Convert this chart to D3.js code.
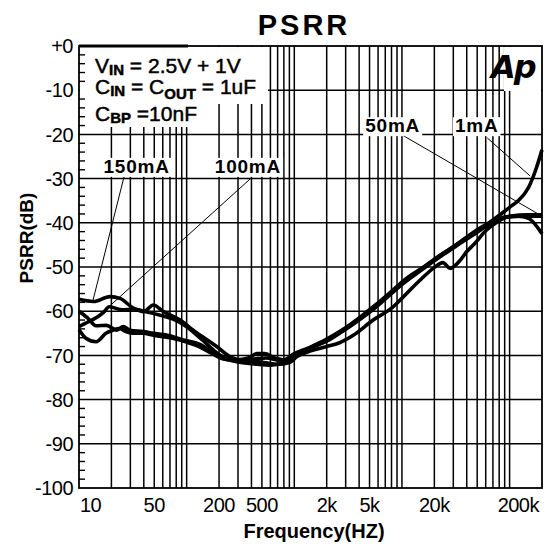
<!DOCTYPE html>
<html>
<head>
<meta charset="utf-8">
<script src="https://cdn.jsdelivr.net/npm/d3@7"></script>
<style>
body { margin: 0; background: #fff; }
</style>
</head>
<body>
<div id="chart"></div>
<script>
// PSRR vs frequency, four load currents
const freq150 = [10, 13.6, 19.4, 24, 32, 40, 49, 61, 87, 115, 190, 253, 314, 420, 550, 750, 1000, 1400, 2000, 2800, 4000, 5600, 8000, 11000, 16000, 23000, 33000, 47000, 66000, 90000, 120000, 150000, 200000];
const db150 = [-57.3, -57.8, -56.7, -57.1, -59.3, -60.1, -58.6, -60.1, -62.0, -64.3, -68.0, -70.3, -71.0, -70.8, -70.6, -71.2, -70.0, -68.5, -66.6, -64.4, -61.8, -59.0, -55.8, -53.2, -50.3, -47.6, -45.0, -42.6, -40.2, -38.8, -38.5, -39.0, -42.5];

const freq100 = [10, 12, 14.4, 17, 19.1, 25.4, 32, 42, 57, 75, 100, 140, 200, 290, 380, 450, 530, 650, 800, 1000, 1400, 2000, 2800, 4000, 5600, 8000, 11000, 16000, 23000, 33000, 47000, 66000, 90000, 130000, 200000];
const db100 = [-63.5, -62.5, -61.5, -60.2, -59.0, -59.7, -59.5, -60.1, -60.9, -61.8, -63.5, -66.5, -69.8, -71.0, -70.5, -69.6, -69.6, -70.5, -71.0, -69.6, -68.2, -66.8, -64.6, -62.0, -59.3, -56.0, -53.0, -50.0, -47.2, -44.8, -42.2, -40.0, -38.7, -38.5, -38.5];

const freq50 = [10, 12, 14.4, 18, 22.4, 25.8, 29.8, 39.6, 49, 65, 93, 133, 200, 300, 450, 600, 800, 1000, 1400, 2000, 2600, 3500, 5400, 8300, 9600, 14700, 19800, 24000, 28000, 35000, 40000, 47000, 60000, 75000, 100000, 150000, 200000];
const db50 = [-60.0, -61.5, -63.3, -63.2, -64.3, -63.5, -64.3, -64.6, -65.0, -65.4, -66.5, -67.5, -70.3, -71.5, -72.0, -72.2, -71.8, -70.5, -69.0, -68.0, -67.2, -65.5, -62.0, -59.0, -57.5, -53.0, -50.2, -49.0, -50.3, -48.4, -46.5, -44.8, -41.8, -40.0, -38.5, -38.2, -38.2];

const freq1 = [10, 11.6, 14.4, 17.8, 20.6, 23.7, 27.3, 31.5, 39, 50, 70, 100, 130, 170, 220, 300, 400, 520, 700, 900, 1100, 1400, 2000, 2800, 4000, 5600, 8000, 11000, 16000, 23000, 33000, 47000, 66000, 100000, 120000, 150000, 175000, 200000];
const db1 = [-64.2, -66.1, -66.9, -65.0, -64.3, -63.9, -64.6, -65.0, -65.0, -65.5, -66.0, -67.0, -68.0, -69.5, -70.8, -71.2, -71.3, -71.6, -72.0, -71.6, -69.8, -68.2, -66.3, -64.2, -61.5, -58.7, -55.5, -52.6, -50.0, -47.3, -44.7, -42.0, -39.8, -36.5, -35.0, -32.0, -28.0, -23.5];

const seriesNames = ['150mA', '100mA', '50mA', '1mA'];
const labelFreq = [34.3, 371, 8200, 49500];
const labelDb = [-28.7, -28.7, -19.5, -19.5];
const leaderStart = [[26.2, -29.6], [388, -30.1], [10000, -20.1], [62000, -20.8]];
const leaderEnd = [[13.5, -57.5], [16.7, -60.2], [200000, -38.5], [155000, -29.4]];

const xTickValues = [10, 50, 200, 500, 2000, 5000, 20000, 200000];
const xTickLabels = ['10', '50', '200', '500', '2k', '5k', '20k', '200k'];
const yTickValues = [0, -10, -20, -30, -40, -50, -60, -70, -80, -90, -100];
const yTickLabels = ['+0', '-10', '-20', '-30', '-40', '-50', '-60', '-70', '-80', '-90', '-100'];

const width = 544, height = 552;
const plotLeft = 79, plotRight = 542, plotTop = 46, plotBottom = 488;
const font = '"Liberation Sans", Arial, sans-serif';

const svg = d3.select('#chart').append('svg')
	.attr('width', width).attr('height', height)
	.style('font-family', font);

const x = d3.scaleLog().domain([10, 200000]).range([plotLeft, plotRight]);
const y = d3.scaleLinear().domain([-100, 0]).range([plotBottom, plotTop]);

// grid
const grid = svg.append('g').attr('stroke', '#000').attr('stroke-width', 1.5);
grid.selectAll('line.v')
	.data(x.ticks().filter(d => d > 10 && d < 200000))
	.enter().append('line')
	.attr('x1', d => x(d)).attr('x2', d => x(d))
	.attr('y1', plotTop).attr('y2', plotBottom);
grid.selectAll('line.h')
	.data(yTickValues.filter(d => d > -100 && d < 0))
	.enter().append('line')
	.attr('x1', plotLeft).attr('x2', plotRight)
	.attr('y1', d => y(d)).attr('y2', d => y(d));

// white boxes behind legend text and logo
svg.append('rect').attr('x', plotLeft + 1).attr('y', plotTop + 1).attr('width', 188).attr('height', 57).attr('fill', '#fff');
svg.append('rect').attr('x', plotLeft + 1).attr('y', plotTop + 1).attr('width', 126).attr('height', 80).attr('fill', '#fff');
svg.append('rect').attr('x', 504).attr('y', plotTop + 1).attr('width', plotRight - 505).attr('height', 44).attr('fill', '#fff');

// minor ticks on left axis
svg.append('g').attr('stroke', '#000').attr('stroke-width', 1.4)
	.selectAll('line')
	.data(d3.range(-98, 0, 2).filter(d => d % 10 !== 0))
	.enter().append('line')
	.attr('x1', plotLeft).attr('x2', plotLeft + 6)
	.attr('y1', d => y(d)).attr('y2', d => y(d));

// frame
svg.append('rect')
	.attr('x', plotLeft).attr('y', plotTop)
	.attr('width', plotRight - plotLeft).attr('height', plotBottom - plotTop)
	.attr('fill', 'none').attr('stroke', '#000').attr('stroke-width', 1.8);
svg.append('line').attr('x1', plotLeft).attr('x2', 188).attr('y1', plotTop).attr('y2', plotTop)
	.attr('stroke', '#000').attr('stroke-width', 3);

// tick labels
svg.append('g').selectAll('text')
	.data(yTickValues)
	.enter().append('text')
	.attr('x', 73).attr('y', d => y(d))
	.attr('dy', '0.36em')
	.attr('text-anchor', 'end')
	.attr('font-size', 20)
	.attr('letter-spacing', -0.5)
	.text((d, i) => yTickLabels[i]);

svg.append('g').selectAll('text')
	.data(xTickValues)
	.enter().append('text')
	.attr('x', (d, i) => i === 0 ? x(d) + 1 : (i === xTickValues.length - 1 ? x(d) - 3 : x(d)))
	.attr('y', 512)
	.attr('text-anchor', (d, i) => i === 0 ? 'start' : (i === xTickValues.length - 1 ? 'end' : 'middle'))
	.attr('font-size', 20)
	.attr('letter-spacing', -0.5)
	.text((d, i) => xTickLabels[i]);

// titles
svg.append('text').attr('x', 304).attr('y', 35)
	.attr('text-anchor', 'middle').attr('font-size', 29).attr('font-weight', 'bold')
	.attr('letter-spacing', 3)
	.text('PSRR');
svg.append('text').attr('x', 314).attr('y', 538)
	.attr('text-anchor', 'middle').attr('font-size', 20).attr('font-weight', 'bold')
	.text('Frequency(HZ)');
svg.append('text')
	.attr('transform', 'translate(33,238) rotate(-90)')
	.attr('text-anchor', 'middle').attr('font-size', 19).attr('font-weight', 'bold')
	.text('PSRR(dB)');

// condition text
const cond = svg.append('g').attr('font-size', 21)
	.attr('stroke', '#000').attr('stroke-width', 0.5);
const l1 = cond.append('text').attr('x', 95).attr('y', 73);
l1.append('tspan').text('V');
l1.append('tspan').attr('font-size', 15).attr('font-weight', 'bold').attr('dy', 2).text('IN');
l1.append('tspan').attr('dy', -2).text(' = 2.5V + 1V');
const l2 = cond.append('text').attr('x', 95).attr('y', 94);
l2.append('tspan').text('C');
l2.append('tspan').attr('font-size', 15).attr('font-weight', 'bold').attr('dy', 2).text('IN');
l2.append('tspan').attr('dy', -2).text(' = C');
l2.append('tspan').attr('font-size', 15).attr('font-weight', 'bold').attr('dy', 5).text('OUT');
l2.append('tspan').attr('dy', -5).text(' = 1uF');
const l3 = cond.append('text').attr('x', 95).attr('y', 121);
l3.append('tspan').text('C');
l3.append('tspan').attr('font-size', 15).attr('font-weight', 'bold').attr('dy', 2).text('BP');
l3.append('tspan').attr('dy', -2).text(' =10nF');

// logo
svg.append('text').attr('x', 491).attr('y', 78)
	.attr('font-family', '"DejaVu Sans", sans-serif')
	.attr('font-size', 32).attr('font-weight', 'bold').attr('font-style', 'italic')
	.attr('letter-spacing', -2)
	.text('Ap');

// curves
const series = [
	freq150.map((f, i) => [f, db150[i]]),
	freq100.map((f, i) => [f, db100[i]]),
	freq50.map((f, i) => [f, db50[i]]),
	freq1.map((f, i) => [f, db1[i]])
];
const line = d3.line()
	.x(d => x(d[0]))
	.y(d => y(d[1]))
	.curve(d3.curveMonotoneX);
svg.append('g').selectAll('path')
	.data(series)
	.enter().append('path')
	.attr('d', line)
	.attr('fill', 'none')
	.attr('stroke', '#000')
	.attr('stroke-width', 3.6)
	.attr('stroke-linejoin', 'round');

// leader lines and labels
svg.append('g').selectAll('line')
	.data(seriesNames)
	.enter().append('line')
	.attr('x1', (d, i) => x(leaderStart[i][0])).attr('y1', (d, i) => y(leaderStart[i][1]))
	.attr('x2', (d, i) => x(leaderEnd[i][0])).attr('y2', (d, i) => y(leaderEnd[i][1]))
	.attr('stroke', '#000').attr('stroke-width', 1);

const labels = svg.append('g').selectAll('g')
	.data(seriesNames)
	.enter().append('g');
labels.append('text')
	.attr('x', (d, i) => x(labelFreq[i]))
	.attr('y', (d, i) => y(labelDb[i]))
	.attr('text-anchor', 'middle')
	.attr('font-size', 19).attr('font-weight', 'bold')
	.attr('letter-spacing', 0.8)
	.text(d => d);
labels.each(function () {
	const g = d3.select(this);
	const b = g.select('text').node().getBBox();
	g.insert('rect', 'text')
		.attr('x', b.x - 2).attr('y', b.y + 2)
		.attr('width', b.width + 4).attr('height', b.height - 2)
		.attr('fill', '#fff');
});
</script>
</body>
</html>
